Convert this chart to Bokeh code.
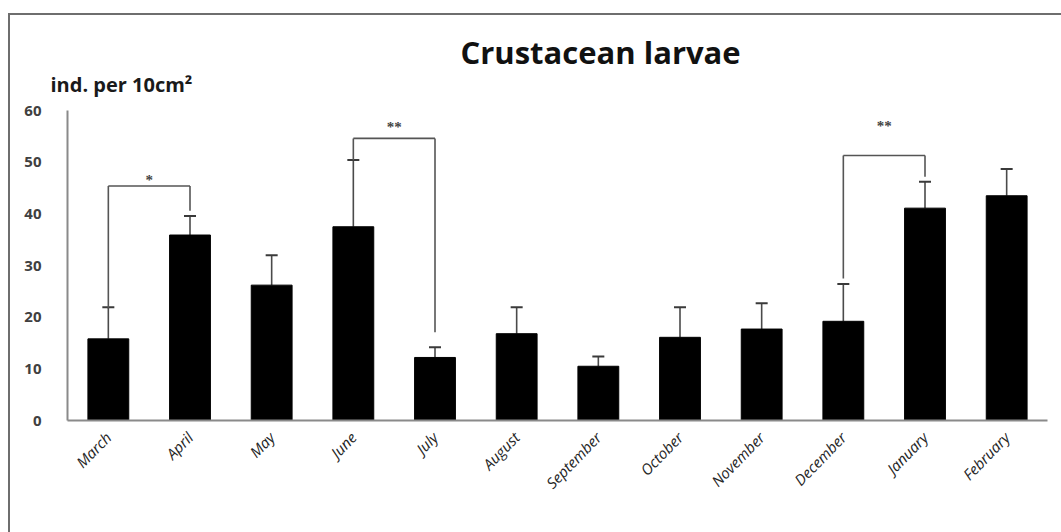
from bokeh.plotting import figure
from bokeh.models import (FactorRange, Range1d, FixedTicker, ColumnDataSource, Whisker,
                          TeeHead, Title)
from bokeh.transform import dodge
from bokeh.embed import file_html
from bokeh.resources import INLINE

# ---- data ----
months = ["March", "April", "May", "June", "July", "August", "September",
          "October", "November", "December", "January", "February"]
means = [15.8, 35.9, 26.2, 37.5, 12.2, 16.8, 10.5, 16.1, 17.7, 19.2, 41.1, 43.5]
errors = [6.1, 3.7, 5.8, 12.9, 2.0, 5.1, 1.9, 5.8, 5.0, 7.2, 5.1, 5.2]
y_ticks = [0, 10, 20, 30, 40, 50, 60]

bracket_left = ["March", "June", "December"]
bracket_right = ["April", "July", "January"]
bracket_top = [45.4, 54.6, 51.3]
bracket_left_end = [21.7, 50.4, 27.5]
bracket_right_end = [40.6, 17.1, 47.2]
bracket_label = ["*", "**", "**"]
bracket_label_y = [46.6, 56.8, 57.0]

title_text = "Crustacean larvae"
ylabel_text = "ind. per 10cm\u00b2"

FONT = "Open Sans"

src = ColumnDataSource(dict(
    month=months, mean=means,
    upper=[m + e for m, e in zip(means, errors)],
))

p = figure(x_range=FactorRange(*months, range_padding=0), y_range=Range1d(0, 60),
           frame_width=980, frame_height=310,
           min_border_left=57, min_border_right=14, min_border_top=95, min_border_bottom=112,
           output_backend="svg", toolbar_location=None, title=None)
p.margin = (13, 0, 0, 8)
p.styles = {"border-top": "2px solid #6e6e6e", "border-left": "2px solid #6e6e6e"}

p.outline_line_color = None
p.xgrid.grid_line_color = None
p.ygrid.grid_line_color = None
p.background_fill_color = "white"
p.border_fill_color = "white"

# error bars (upper only)
wh = Whisker(source=src, base="month", upper="upper", lower="mean",
             upper_head=TeeHead(size=12, line_color="#3a3a3a", line_width=2),
             lower_head=None, line_color="#4a4a4a", line_width=1.6)
p.add_layout(wh)

p.vbar(x="month", top="mean", width=0.5, source=src, fill_color="black",
       line_color="black")

# significance brackets
bsrc = ColumnDataSource(dict(l=bracket_left, r=bracket_right, top=bracket_top,
                             le=bracket_left_end, re=bracket_right_end,
                             lab=bracket_label, ly=bracket_label_y))
bc = "#555555"
p.segment(x0="l", y0="top", x1="r", y1="top", source=bsrc, line_color=bc, line_width=1.6)
p.segment(x0="l", y0="top", x1="l", y1="le", source=bsrc, line_color=bc, line_width=1.6)
p.segment(x0="r", y0="top", x1="r", y1="re", source=bsrc, line_color=bc, line_width=1.6)
p.text(x=dodge("l", 0.5, range=p.x_range), y="ly", text="lab", source=bsrc,
       text_align="center", text_baseline="middle", text_font_size="15px",
       text_font_style="bold", text_color="#444444", text_font=FONT)

# axes
p.yaxis.ticker = FixedTicker(ticks=y_ticks)
p.yaxis.major_tick_line_color = None
p.yaxis.minor_tick_line_color = None
p.yaxis.axis_line_color = "#8a8a8a"
p.yaxis.axis_line_width = 2
p.yaxis.major_label_standoff = 20
p.yaxis.major_label_text_font = FONT
p.yaxis.major_label_text_font_size = "15px"
p.yaxis.major_label_text_font_style = "bold"
p.yaxis.major_label_text_color = "#404040"

p.xaxis.major_tick_line_color = None
p.xaxis.minor_tick_line_color = None
p.xaxis.axis_line_color = "#8a8a8a"
p.xaxis.axis_line_width = 2
p.xaxis.major_label_orientation = 0.8
p.xaxis.major_label_standoff = 8
p.xaxis.major_label_text_font = FONT
p.xaxis.major_label_text_font_size = "15px"
p.xaxis.major_label_text_font_style = "italic"
p.xaxis.major_label_text_color = "#262626"

# titles
p.add_layout(Title(text=ylabel_text, align="left", offset=-17, text_font=FONT,
                   text_font_size="20px", text_font_style="bold",
                   text_color="#1a1a1a", standoff=26), "above")
p.add_layout(Title(text=title_text, align="left", offset=393, text_font=FONT,
                   text_font_size="31px", text_font_style="bold",
                   text_color="#111111", standoff=-35), "above")

open("out.html", "w").write(file_html(p, INLINE))
